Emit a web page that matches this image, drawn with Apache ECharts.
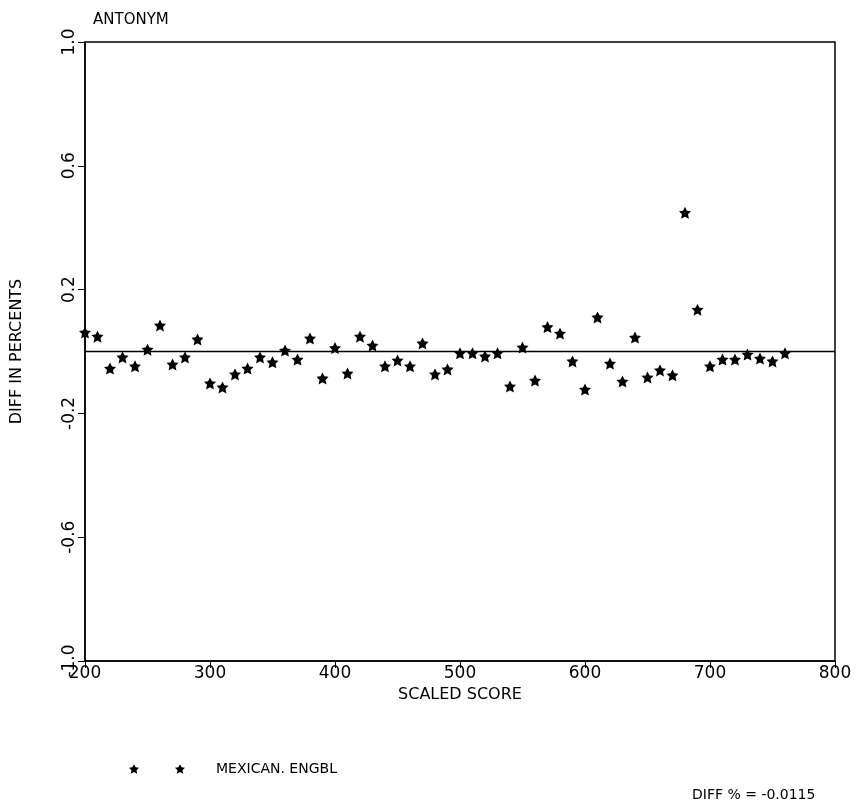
<!DOCTYPE html>
<html>
<head>
<meta charset="utf-8">
<script src="https://cdn.jsdelivr.net/npm/echarts@6/dist/echarts.min.js"></script>
<style>html,body{margin:0;padding:0;background:#fff;}#c{width:858px;height:808px;}</style>
</head>
<body>
<div id="c"></div>
<script>
const titleText = 'ANTONYM';
const seriesName = 'MEXICAN. ENGBL';
const diffText = 'DIFF % = -0.0115';
const xName = 'SCALED SCORE';
const yName = 'DIFF IN PERCENTS';
const scores = [200,210,220,230,240,250,260,270,280,290,300,310,320,330,340,350,360,370,380,390,
  400,410,420,430,440,450,460,470,480,490,500,510,520,530,540,550,560,570,580,590,
  600,610,620,630,640,650,660,670,680,690,700,710,720,730,740,750,760];
const diffs = [0.061,0.048,-0.055,-0.019,-0.048,0.006,0.084,-0.042,-0.019,0.039,
  -0.103,-0.116,-0.074,-0.055,-0.019,-0.035,0.003,-0.026,0.042,-0.087,
  0.011,-0.071,0.048,0.019,-0.048,-0.029,-0.048,0.026,-0.074,-0.058,
  -0.006,-0.006,-0.016,-0.006,-0.113,0.013,-0.094,0.079,0.058,-0.032,
  -0.123,0.110,-0.039,-0.097,0.045,-0.084,-0.061,-0.077,0.448,0.135,
  -0.048,-0.026,-0.026,-0.010,-0.023,-0.032,-0.006];
const zeroLine = [[200,0],[800,0]];

const star = 'M10 0 L13.2 6.2 L19.8 6.91 L14.9 11.8 L16.4 19 L10 15.6 L3.6 19 L5.1 11.8 L0.2 6.91 L6.8 6.2 Z';
const star2 = star + ' M100 0 L103.2 6.2 L109.8 6.91 L104.9 11.8 L106.4 19 L100 15.6 L93.6 19 L95.1 11.8 L90.2 6.91 L96.8 6.2 Z';
const font = 'DejaVu Sans';

const chart = echarts.init(document.getElementById('c'));
chart.setOption({
  backgroundColor: '#fff',
  animation: false,
  title: {
    text: titleText, left: 88, top: 8,
    textStyle: {fontFamily: font, fontSize: 15, fontWeight: 'normal', color: '#000'}
  },
  grid: {left: 85, right: 23, top: 42, bottom: 147, show: true, borderColor: '#000', borderWidth: 1.5, containLabel: false},
  legend: {
    left: 124, top: 757, itemWidth: 56, itemHeight: 10,
    icon: 'path://' + star2,
    data: [{name: seriesName, itemStyle: {color: '#000', opacity: 1}}],
    textStyle: {fontFamily: font, fontSize: 14, color: '#000', padding: [0,0,0,26]}
  },
  graphic: [{
    type: 'text', left: 692, top: 788,
    style: {text: diffText, fontFamily: font, fontSize: 14, fill: '#000'}
  }],
  xAxis: {
    type: 'value', min: 200, max: 800, interval: 100,
    name: xName, nameLocation: 'middle', nameGap: 18,
    nameTextStyle: {fontFamily: font, fontSize: 16, color: '#000'},
    axisLine: {show: true, onZero: false, lineStyle: {color: '#000', width: 1.5}},
    axisTick: {show: true, inside: false, length: 7, lineStyle: {color: '#000'}},
    axisLabel: {fontFamily: font, fontSize: 17, color: '#000', margin: 4},
    splitLine: {show: false}
  },
  yAxis: {
    type: 'value', min: -1, max: 1, interval: 0.4,
    name: yName, nameLocation: 'middle', nameGap: 60,
    nameTextStyle: {fontFamily: font, fontSize: 16, color: '#000'},
    axisLine: {show: true, lineStyle: {color: '#000', width: 1.5}},
    axisTick: {show: true, inside: false, length: 7, lineStyle: {color: '#000'}},
    axisLabel: {fontFamily: font, fontSize: 17, color: '#000', rotate: 90, margin: 7,
      formatter: v => v.toFixed(1)},
    splitLine: {show: false}
  },
  series: [
    {
      type: 'line', data: zeroLine, symbol: 'none', silent: true,
      lineStyle: {color: '#000', width: 1.5}, legendHoverLink: false
    },
    {
      name: seriesName, type: 'scatter',
      data: scores.map((s, i) => [s, diffs[i]]),
      symbol: 'path://' + star, symbolSize: [12, 12],
      itemStyle: {color: '#000', opacity: 1}
    }
  ]
});
</script>
</body>
</html>
